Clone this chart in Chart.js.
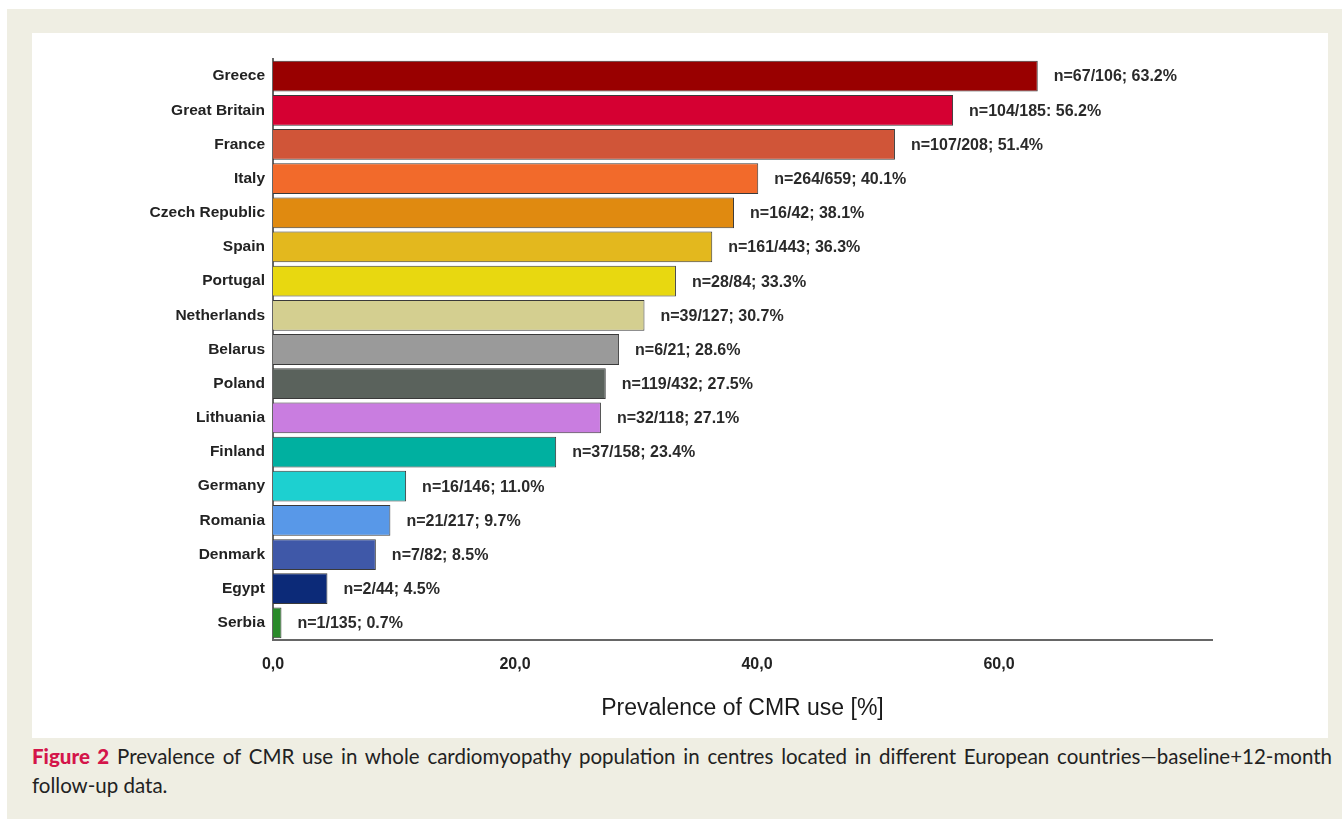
<!DOCTYPE html>
<html>
<head>
<meta charset="utf-8">
<script src="https://cdn.jsdelivr.net/npm/chart.js@4.4.1/dist/chart.umd.min.js"></script>
<style>
    html, body { margin: 0; padding: 0; background: #fff; }
    #frame { position: absolute; left: 7px; top: 9px; width: 1335px; height: 810px; background: #efeee3; }
    #panel { position: absolute; left: 25px; top: 24px; width: 1296px; height: 705px; background: #fff; }
    #caption { position: absolute; left: 25px; top: 733px; width: 1300px; font-family: Lato, "Open Sans", sans-serif; font-size: 20.5px; color: #222; line-height: 29px; }
    #caption .l1 { text-align: justify; text-align-last: justify; white-space: nowrap; }
    #caption b { color: #d4154a; font-weight: 900; }
</style>
</head>
<body>
<div id="frame">
    <div id="panel"><canvas id="cmrChart" width="1296" height="705"></canvas></div>
    <div id="caption">
        <div class="l1"><b>Figure 2</b> Prevalence of CMR use in whole cardiomyopathy population in centres located in different European countries—baseline+12-month</div>
        <div>follow-up data.</div>
    </div>
</div>
<script>
// Datos
const countries = ['Greece', 'Great Britain', 'France', 'Italy', 'Czech Republic', 'Spain', 'Portugal',
    'Netherlands', 'Belarus', 'Poland', 'Lithuania', 'Finland', 'Germany', 'Romania', 'Denmark', 'Egypt', 'Serbia'];
const prevalence = [63.2, 56.2, 51.4, 40.1, 38.1, 36.3, 33.3, 30.7, 28.6, 27.5, 27.1, 23.4, 11.0, 9.7, 8.5, 4.5, 0.7];
const barLabels = ['n=67/106; 63.2%', 'n=104/185: 56.2%', 'n=107/208; 51.4%', 'n=264/659; 40.1%', 'n=16/42; 38.1%',
    'n=161/443; 36.3%', 'n=28/84; 33.3%', 'n=39/127; 30.7%', 'n=6/21; 28.6%', 'n=119/432; 27.5%', 'n=32/118; 27.1%',
    'n=37/158; 23.4%', 'n=16/146; 11.0%', 'n=21/217; 9.7%', 'n=7/82; 8.5%', 'n=2/44; 4.5%', 'n=1/135; 0.7%'];
const barColors = ['#990000', '#d50032', '#d05538', '#f26a2b', '#e08a10', '#e3b81e', '#e8d810', '#d4cf90',
    '#9a9a9a', '#5a625c', '#c97de0', '#00b0a0', '#1dd0d0', '#5898e8', '#3f58a8', '#0c2a78', '#2a8a2a'];
const xTicks = [0, 20, 40, 60];

const FONT = '"Liberation Sans", Arial, sans-serif';

// Etiquetas al final de cada barra
const valueLabels = {
    id: 'valueLabels',
    afterDatasetsDraw(chart) {
        const ctx = chart.ctx;
        const meta = chart.getDatasetMeta(0);
        ctx.save();
        ctx.font = 'bold 16px ' + FONT;
        ctx.fillStyle = '#2a2a2a';
        ctx.textBaseline = 'middle';
        meta.data.forEach((bar, i) => {
            ctx.fillText(barLabels[i], bar.x + 16, bar.y + 1);
        });
        ctx.restore();
    }
};

const ctx = document.getElementById('cmrChart').getContext('2d');
new Chart(ctx, {
    type: 'bar',
    data: {
        labels: countries,
        datasets: [{
            data: prevalence,
            backgroundColor: barColors,
            borderColor: '#3a3a3a',
            borderWidth: 1,
            barPercentage: 0.9,
            categoryPercentage: 1
        }]
    },
    options: {
        indexAxis: 'y',
        responsive: false,
        animation: false,
        layout: { padding: { top: 26, right: 116, left: 0, bottom: 0 } },
        plugins: {
            legend: { display: false },
            tooltip: { enabled: false }
        },
        scales: {
            y: {
                grid: { display: false },
                border: { display: true, color: '#666', width: 2 },
                ticks: {
                    color: '#222',
                    padding: 0,
                    font: { family: FONT, size: 15.5, weight: 'bold' }
                },
                afterFit(scale) { scale.width = 241; }
            },
            x: {
                min: 0,
                max: 77.6,
                grid: { display: false },
                border: { display: true, color: '#666', width: 2 },
                afterBuildTicks(scale) {
                    scale.ticks = xTicks.map(v => ({ value: v }));
                },
                ticks: {
                    color: '#222',
                    padding: 7,
                    font: { family: FONT, size: 16, weight: 'bold' },
                    callback: v => v.toFixed(1).replace('.', ',')
                },
                title: {
                    display: true,
                    text: 'Prevalence of CMR use [%]',
                    color: '#1a1a1a',
                    padding: { top: 0, bottom: 16 },
                    font: { family: FONT, size: 23 }
                },
                afterFit(scale) { scale.height = 98; }
            }
        }
    },
    plugins: [valueLabels]
});
</script>
</body>
</html>
